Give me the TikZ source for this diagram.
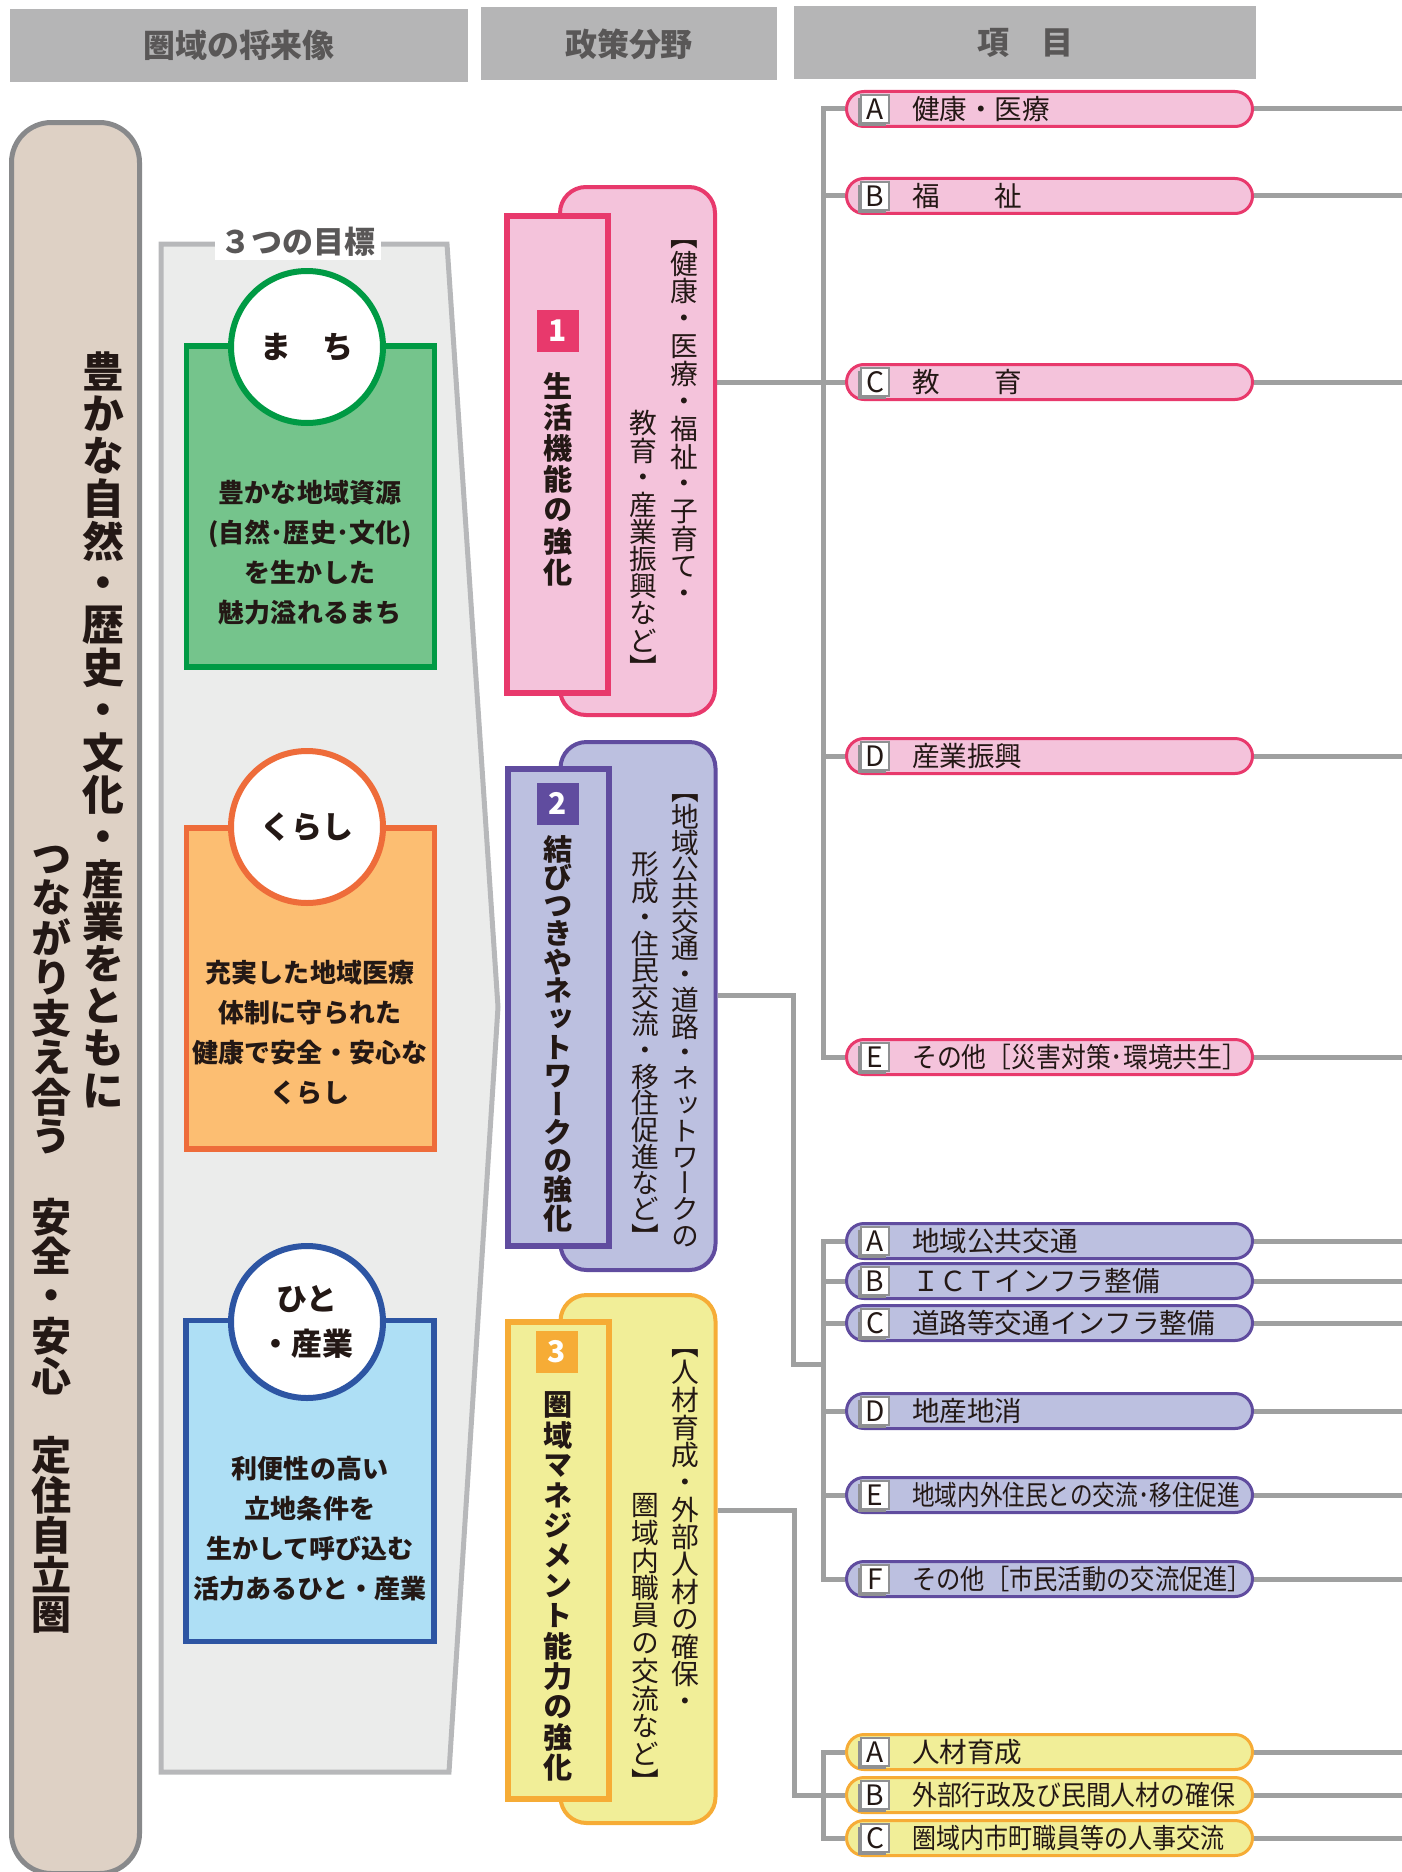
\documentclass[tikz,border=0pt]{standalone}
\usepackage{fontspec}
\setmainfont{Noto Sans CJK JP}
\newfontfamily\tatefont{Noto Sans CJK JP}[RawFeature=+vert]
\usetikzlibrary{shadows,backgrounds}

\definecolor{ink}{HTML}{231815}
\definecolor{headfill}{HTML}{B5B5B6}
\definecolor{headtext}{HTML}{595757}
\definecolor{wiregray}{HTML}{9FA0A0}
\definecolor{leftfill}{HTML}{DED1C5}
\definecolor{leftline}{HTML}{88898B}
\definecolor{panelfill}{HTML}{EBECEB}
\definecolor{panelline}{HTML}{B7B8BA}
\definecolor{grfill}{HTML}{75C48C}
\definecolor{grline}{HTML}{009A44}
\definecolor{orfill}{HTML}{FCBE72}
\definecolor{orline}{HTML}{EE6C3A}
\definecolor{blfill}{HTML}{AEDFF5}
\definecolor{blline}{HTML}{2D55A3}
\definecolor{pkfill}{HTML}{F4C3DB}
\definecolor{pkline}{HTML}{E8396C}
\definecolor{pufill}{HTML}{BCC0E0}
\definecolor{puline}{HTML}{604C9F}
\definecolor{yefill}{HTML}{F1EE98}
\definecolor{yeline}{HTML}{F6AC36}
\definecolor{tagline}{HTML}{8F9092}

% vertical text, one character per cell
\newlength\tatep
\newcommand\tate[2]{\setlength\tatep{#1}\vbox{\offinterlineskip\tateloop#2\relax}}
\def\tateloop#1{\ifx\relax#1\else\vbox to\tatep{\vss\hbox to\tatep{\hss\vphantom{国}#1\hss}\vss}\expandafter\tateloop\fi}

\begin{document}
\begin{tikzpicture}[x=0.1mm, y=-0.1mm, every node/.style={inner sep=0pt, text=ink},
  wire/.style={draw=wiregray, line width=0.5mm},
  head/.style={fill=headfill, text=headtext, minimum height=7.3mm, font=\fontsize{9.1pt}{9.1pt}\selectfont\bfseries},
  goalbox/.style={draw=#1line, fill=#1fill, line width=0.55mm, minimum width=24.8mm, minimum height=32.1mm},
  goalring/.style={circle, draw=#1line, fill=white, line width=0.6mm, minimum size=15.2mm, align=center, font=\fontsize{8.8pt}{13pt}\selectfont\bfseries},
  goaltext/.style={align=center, font=\fontsize{7.4pt}{11.4pt}\selectfont\bfseries},
  backbox/.style={draw=#1line, fill=#1fill, line width=0.4mm, rounded corners=2.6mm, minimum width=15.5mm, minimum height=52.8mm},
  frontbox/.style={draw=#1line, fill=#1fill, line width=0.6mm, minimum width=10.1mm, minimum height=47.7mm},
  badge/.style={fill=#1line, text=white, minimum size=4.2mm, font=\fontsize{8.5pt}{8.5pt}\selectfont\bfseries},
  title/.style={anchor=north, font=\tatefont\fontsize{8.3pt}{8.3pt}\selectfont\bfseries},
  desc/.style={anchor=north, font=\tatefont\fontsize{7.9pt}{7.9pt}\selectfont},
  item/.style={draw=#1line, fill=#1fill, line width=0.3mm, rounded corners=1.75mm, minimum width=40.6mm, minimum height=3.5mm},
  tag/.style={draw=tagline, fill=white, line width=0.12mm, minimum size=2.8mm, general shadow={fill=tagline, shadow xshift=-0.28mm, shadow yshift=-0.28mm}, font=\fontsize{8pt}{8pt}\selectfont},
  itemtext/.style={anchor=west, font=\fontsize{7.85pt}{7.85pt}\selectfont}]
\useasboundingbox (0,0) rectangle (1402,1872);
\coordinate (rim) at (1402,0);
\coordinate (y1) at (0,382);
\coordinate (y2) at (0,995);
\coordinate (y3) at (0,1510);
\coordinate (s2) at (823,1364);

% column headers
\node[head, minimum width=45.8mm] (h1) at (239,45.5) {圏域の将来像};
\node[head, minimum width=29.6mm] (h2) at (629,44) {政策分野};
\node[head, minimum width=46.2mm] (h3) at (1025,42.5) {項　目};

% vision
\node[draw=leftline, fill=leftfill, line width=0.5mm, rounded corners=4mm, minimum width=12.8mm, minimum height=175.1mm] (vision) at (75.5,998) {};
\node[anchor=north, font=\tatefont\fontsize{11.9pt}{11.9pt}\selectfont\bfseries] (vis1) at (103,350) {\tate{4.23mm}{豊かな自然・歴史・文化・産業をともに}};
\node[anchor=north, font=\tatefont\fontsize{11.4pt}{11.4pt}\selectfont\bfseries] (vis2) at (52,838) {\tate{3.98mm}{つながり支え合う　安全・安心　定住自立圏}};

% three goals
\draw[draw=panelline, fill=panelfill, line width=0.5mm] (161,244) -- (447,244) -- (498,1007) -- (449,1772) -- (161,1772) -- cycle;
\node[fill=white, inner xsep=0.6mm, inner ysep=0.3mm, text=headtext, font=\fontsize{8.8pt}{8.8pt}\selectfont\bfseries] (goals) at (298,242) {３つの目標};

\node[goalbox=gr] (g1) at (310.5,506.5) {};
\node[goalring=gr] (c1) at (307,347) {ま　ち};
\node[goaltext] (g1t) at (310,553) {豊かな地域資源\\(自然･歴史･文化)\\を生かした\\魅力溢れるまち};

\node[goalbox=or] (g2) at (310.5,988.5) {};
\node[goalring=or] (c2) at (307,827) {くらし};
\node[goaltext] (g2t) at (310,1033) {充実した地域医療\\体制に守られた\\健康で安全・安心な\\くらし};

\node[goalbox=bl] (g3) at (310,1481) {};
\node[goalring=bl] (c3) at (307,1322) {ひと\\・産業};
\node[goaltext] (g3t) at (310,1529) {利便性の高い\\立地条件を\\生かして呼び込む\\活力あるひと・産業};

% policy fields
\node[backbox=pk] (pb1) at (637.5,451) {};
\node[frontbox=pk] (pf1) at (557.5,454.5) {};
\node[badge=pk] (n1) at (558,330.5) {1};
\node[title] (pt1) at (558,370) {\tate{3.1mm}{生活機能の強化}};
\node[desc] (pd1a) at (684,222) {\tate{2.75mm}{【健康・医療・福祉・子育て・}};
\node[desc] (pd1b) at (643,409) {\tate{2.72mm}{教育・産業振興など】}};

\node[backbox=pu] (pb2) at (638,1006) {};
\node[frontbox=pu] (pf2) at (558,1007.5) {};
\node[badge=pu] (n2) at (558,803.5) {2};
\node[title] (pt2) at (558,834) {\tate{2.84mm}{結びつきやネットワークの強化}};
\node[desc] (pd2a) at (685,777) {\tate{2.62mm}{【地域公共交通・道路・ネットワークの}};
\node[desc] (pd2b) at (645,850) {\tate{2.66mm}{形成・住民交流・移住促進など】}};

\node[backbox=ye] (pb3) at (638,1559) {};
\node[frontbox=ye] (pf3) at (558,1560.5) {};
\node[badge=ye] (n3) at (557,1351.5) {3};
\node[title] (pt3) at (558,1389) {\tate{3.02mm}{圏域マネジメント能力の強化}};
\node[desc] (pd3a) at (685,1331) {\tate{2.74mm}{【人材育成・外部人材の確保・}};
\node[desc] (pd3b) at (645,1491) {\tate{2.76mm}{圏域内職員の交流など】}};

% items
\foreach \n/\y/\l/\t in {k1a/109/A/健康・医療, k1b/196/B/福　　祉, k1c/382/C/教　　育, k1d/756/D/産業振興,
  k1e/1057/E/{\scalebox{0.9}[1]{その他［災害対策･環境共生］}}} {
  \node[item=pk] (\n) at (1049.5,\y) {};
  \node[tag] (tag\n) at ([xshift=3mm]\n.west) {\l};
  \node[itemtext] (txt\n) at ([xshift=6.65mm]\n.west) {\t};
}
\foreach \n/\y/\l/\t in {k2a/1241/A/地域公共交通, k2b/1281/B/ＩＣＴインフラ整備, k2c/1323/C/道路等交通インフラ整備, k2d/1411/D/地産地消,
  k2e/1495/E/{\scalebox{0.82}[1]{地域内外住民との交流･移住促進}}, k2f/1579/F/{\scalebox{0.88}[1]{その他［市民活動の交流促進］}}} {
  \node[item=pu] (\n) at (1049.5,\y) {};
  \node[tag] (tag\n) at ([xshift=3mm]\n.west) {\l};
  \node[itemtext] (txt\n) at ([xshift=6.65mm]\n.west) {\t};
}
\foreach \n/\y/\l/\t in {k3a/1752/A/人材育成, k3b/1795/B/{\scalebox{0.9}[1]{外部行政及び民間人材の確保}},
  k3c/1838/C/{\scalebox{0.87}[1]{圏域内市町職員等の人事交流}}} {
  \node[item=ye] (\n) at (1049.5,\y) {};
  \node[tag] (tag\n) at ([xshift=3mm]\n.west) {\l};
  \node[itemtext] (txt\n) at ([xshift=6.65mm]\n.west) {\t};
}

% connectors
\begin{scope}[on background layer]
\draw[wire] (pb1.east |- y1) -- (k1c.west);
\draw[wire] (k1a.west) -- ++(-22,0) |- (k1e.west);
\draw[wire] (k1b.west) -- ++(-22,0);
\draw[wire] (k1d.west) -- ++(-22,0);
\draw[wire] (pb2.east |- y2) -- ++(76,0) |- (s2);
\draw[wire] (k2a.west) -- ++(-22,0) |- (k2f.west);
\foreach \n in {k2b,k2c,k2d,k2e} \draw[wire] (\n.west) -- ++(-22,0);
\draw[wire] (pb3.east |- y3) -- ++(77,0) |- (k3b.west);
\draw[wire] (k3a.west) -- ++(-22,0) |- (k3c.west);
\foreach \n in {k1a,k1b,k1c,k1d,k1e,k2a,k2b,k2c,k2d,k2e,k2f,k3a,k3b,k3c} \draw[wire] (\n.east) -- (\n.east -| rim);
\end{scope}
\end{tikzpicture}
\end{document}
